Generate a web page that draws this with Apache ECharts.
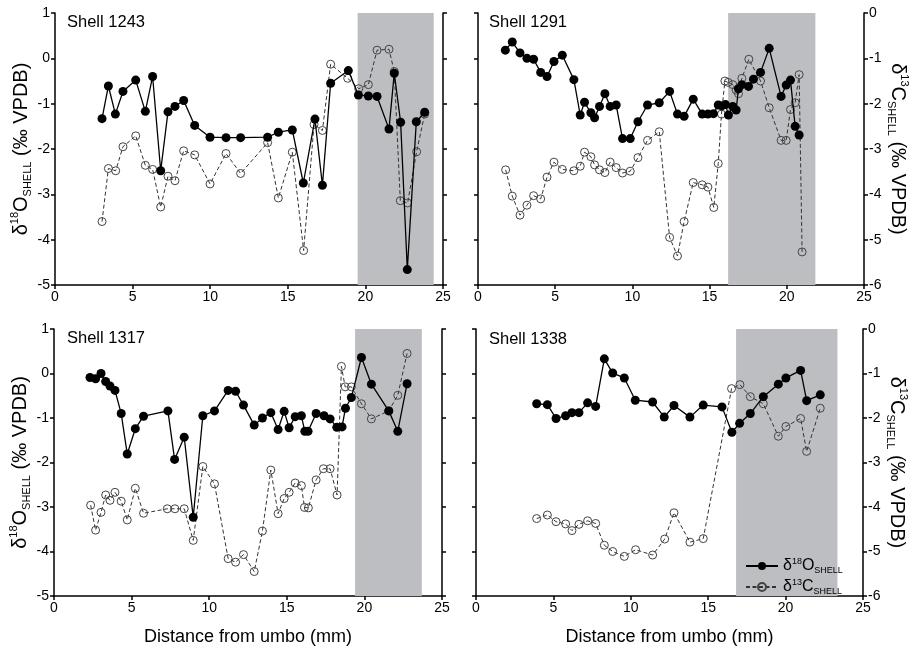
<!DOCTYPE html>
<html>
<head>
<meta charset="utf-8">
<script src="https://cdn.jsdelivr.net/npm/echarts@6/dist/echarts.min.js"></script>
<style>
  html, body { margin: 0; padding: 0; background: #fff; }
  #chart { width: 915px; height: 647px; }
</style>
</head>
<body>
<div id="chart"></div>
<script>
// distance from umbo (mm), value (per mil VPDB)
const shell1243_d18O = [[3.03,-1.33],[3.44,-0.61],[3.89,-1.23],[4.38,-0.73],[5.20,-0.48],[5.82,-1.17],[6.29,-0.40],[6.81,-2.48],[7.28,-1.18],[7.73,-1.06],[8.29,-0.93],[9.00,-1.48],[9.99,-1.74],[11.02,-1.75],[11.96,-1.75],[13.70,-1.74],[14.39,-1.63],[15.29,-1.58],[16.00,-2.75],[16.75,-1.34],[17.23,-2.80],[17.76,-0.55],[18.90,-0.27],[19.55,-0.81],[20.19,-0.83],[20.75,-0.84],[21.52,-1.56],[21.86,-0.33],[22.27,-1.41],[22.70,-4.66],[23.28,-1.40],[23.82,-1.19]];
const shell1243_d13C = [[3.03,-4.60],[3.44,-3.43],[3.91,-3.48],[4.38,-2.95],[5.20,-2.71],[5.82,-3.36],[6.29,-3.45],[6.81,-4.28],[7.28,-3.60],[7.73,-3.70],[8.29,-3.04],[9.00,-3.13],[9.99,-3.77],[11.02,-3.10],[11.96,-3.54],[13.70,-2.86],[14.39,-4.08],[15.29,-3.07],[16.02,-5.24],[16.69,-2.46],[17.23,-2.59],[17.76,-1.13],[18.86,-1.44],[19.57,-1.67],[20.19,-1.58],[20.75,-0.82],[21.52,-0.80],[21.86,-1.29],[22.25,-4.14],[22.72,-4.19],[23.30,-3.06],[23.82,-2.23]];

const shell1291_d18O = [[1.77,0.18],[2.22,0.36],[2.72,0.12],[3.17,0.00],[3.60,-0.02],[4.06,-0.31],[4.47,-0.40],[4.92,-0.07],[5.46,0.07],[6.21,-0.47],[6.62,-1.25],[6.90,-0.97],[7.31,-1.20],[7.55,-1.31],[7.87,-1.06],[8.22,-0.78],[8.56,-1.06],[8.95,-1.03],[9.36,-1.77],[9.86,-1.77],[10.36,-1.40],[10.98,-1.03],[11.74,-0.98],[12.41,-0.73],[12.92,-1.23],[13.35,-1.28],[13.94,-0.90],[14.52,-1.23],[14.89,-1.23],[15.25,-1.22],[15.56,-1.03],[15.79,-1.05],[16.03,-1.02],[16.22,-1.25],[16.50,-1.06],[16.72,-1.14],[16.87,-0.67],[17.09,-0.58],[17.52,-0.62],[17.84,-0.46],[18.30,-0.31],[18.86,0.22],[19.63,-0.84],[19.96,-0.59],[20.24,-0.48],[20.54,-1.50],[20.80,-1.69]];
const shell1291_d13C = [[1.79,-3.46],[2.22,-4.04],[2.72,-4.46],[3.17,-4.24],[3.60,-4.03],[4.06,-4.10],[4.47,-3.62],[4.92,-3.29],[5.46,-3.45],[6.21,-3.48],[6.62,-3.38],[6.90,-3.07],[7.31,-3.17],[7.55,-3.35],[7.87,-3.46],[8.22,-3.52],[8.56,-3.29],[8.95,-3.41],[9.36,-3.53],[9.86,-3.49],[10.36,-3.19],[10.98,-2.81],[11.74,-2.62],[12.41,-4.95],[12.92,-5.36],[13.35,-4.60],[13.94,-3.74],[14.52,-3.79],[14.89,-3.84],[15.27,-4.29],[15.56,-3.32],[15.77,-2.23],[15.99,-1.50],[16.20,-1.53],[16.50,-1.58],[16.72,-1.70],[16.87,-1.78],[17.09,-1.44],[17.54,-1.02],[18.30,-1.50],[18.86,-2.09],[19.63,-2.81],[19.96,-2.81],[20.24,-2.13],[20.54,-1.98],[20.80,-1.36],[20.99,-5.27]];

const shell1317_d18O = [[2.32,-0.09],[2.68,-0.12],[3.03,0.00],[3.33,-0.18],[3.61,-0.28],[3.93,-0.38],[4.33,-0.90],[4.72,-1.81],[5.24,-1.24],[5.77,-0.96],[7.34,-0.84],[7.77,-1.93],[8.39,-1.43],[8.97,-3.23],[9.59,-0.95],[10.34,-0.84],[11.22,-0.38],[11.70,-0.40],[12.21,-0.71],[12.90,-1.16],[13.43,-1.00],[13.97,-0.88],[14.44,-1.26],[14.83,-0.85],[15.15,-1.22],[15.54,-0.97],[15.94,-0.95],[16.16,-1.30],[16.37,-1.30],[16.89,-0.90],[17.40,-0.95],[17.79,-1.02],[18.22,-1.21],[18.56,-1.20],[18.78,-0.78],[19.16,-0.54],[19.81,0.36],[20.45,-0.24],[21.57,-0.84],[22.15,-1.30],[22.75,-0.23]];
const shell1317_d13C = [[2.36,-3.96],[2.68,-4.52],[3.03,-4.12],[3.33,-3.73],[3.61,-3.85],[3.93,-3.67],[4.33,-3.87],[4.72,-4.29],[5.24,-3.58],[5.77,-4.14],[7.30,-4.04],[7.79,-4.04],[8.39,-4.04],[8.97,-4.75],[9.59,-3.09],[10.34,-3.48],[11.22,-5.16],[11.70,-5.24],[12.21,-5.07],[12.90,-5.45],[13.43,-4.54],[13.97,-3.17],[14.44,-4.15],[14.83,-3.81],[15.15,-3.67],[15.54,-3.46],[15.94,-3.52],[16.14,-4.01],[16.39,-4.02],[16.89,-3.39],[17.36,-3.14],[17.79,-3.14],[18.24,-3.73],[18.52,-0.84],[18.76,-1.30],[19.16,-1.30],[19.81,-1.68],[20.45,-2.02],[21.57,-1.84],[22.15,-1.49],[22.75,-0.55]];

const shell1338_d18O = [[3.92,-0.68],[4.61,-0.70],[5.17,-1.01],[5.79,-0.95],[6.20,-0.88],[6.65,-0.88],[7.21,-0.66],[7.73,-0.74],[8.29,0.33],[8.83,0.01],[9.58,-0.10],[10.29,-0.60],[11.41,-0.64],[12.16,-0.98],[12.79,-0.72],[13.82,-0.98],[14.68,-0.71],[15.89,-0.75],[16.53,-1.32],[17.03,-1.12],[17.72,-0.90],[18.56,-0.52],[19.53,-0.24],[20.02,-0.10],[20.97,0.07],[21.36,-0.61],[22.24,-0.48]];
const shell1338_d13C = [[3.92,-4.26],[4.61,-4.18],[5.17,-4.33],[5.79,-4.38],[6.20,-4.53],[6.65,-4.39],[7.21,-4.31],[7.73,-4.37],[8.29,-4.86],[8.83,-5.00],[9.58,-5.11],[10.31,-4.96],[11.41,-5.08],[12.19,-4.72],[12.79,-4.13],[13.82,-4.79],[14.68,-4.71],[16.51,-1.34],[17.05,-1.25],[17.72,-1.52],[18.56,-1.68],[19.53,-2.41],[20.02,-2.19],[20.97,-2.01],[21.36,-2.75],[22.24,-1.78]];

const shellNames = ['Shell 1243', 'Shell 1291', 'Shell 1317', 'Shell 1338'];
const d18OSeries = [shell1243_d18O, shell1291_d18O, shell1317_d18O, shell1338_d18O];
const d13CSeries = [shell1243_d13C, shell1291_d13C, shell1317_d13C, shell1338_d13C];
// shaded band (mm)
const shadeBands = [[19.5, 24.4], [16.2, 21.85], [19.4, 23.7], [16.8, 23.35]];

const FONT = '"Liberation Sans", Arial, Helvetica, sans-serif';
const grids = [
  { left: 55, top: 13, width: 388, height: 272 },
  { left: 478, top: 13, width: 386, height: 272 },
  { left: 54, top: 329, width: 388, height: 272 },
  { left: 476, top: 329, width: 387, height: 272 }
];

const axisLine = { show: true, onZero: false, lineStyle: { color: '#000', width: 1.5 } };
const axisTick = { show: true, length: 4, lineStyle: { color: '#000', width: 1.5 } };
const labelStyle = { color: '#000', fontSize: 14, fontFamily: FONT };

const titleRich = {
  n: { fontSize: 20, fontFamily: FONT, color: '#000', lineHeight: 24 },
  sup: { fontSize: 11, fontFamily: FONT, color: '#000', verticalAlign: 'top', lineHeight: 13 },
  sub: { fontSize: 11, fontFamily: FONT, color: '#000', verticalAlign: 'bottom', lineHeight: 13 }
};

const xAxes = [], yAxes = [], series = [];
grids.forEach((g, i) => {
  const isLeft = i % 2 === 0;
  const isBottom = i >= 2;
  xAxes.push({
    type: 'value', gridIndex: i, min: 0, max: 25, interval: 5,
    axisLine, axisTick, splitLine: { show: false },
    axisLabel: Object.assign({ margin: 5 }, labelStyle),
    name: isBottom ? 'Distance from umbo (mm)' : '',
    nameLocation: 'middle', nameGap: 32,
    nameTextStyle: { fontSize: 18, fontFamily: FONT, color: '#000' }
  });
  yAxes.push({
    type: 'value', gridIndex: i, position: 'left', min: -5, max: 1, interval: 1,
    axisLine, axisTick, splitLine: { show: false },
    axisLabel: Object.assign({ show: isLeft, margin: 5 }, labelStyle),
    name: isLeft ? '{n|δ}{sup|18}{n|O}{sub|SHELL}{n| (‰ VPDB)}' : '',
    nameLocation: 'middle', nameGap: 22, nameRotate: 90,
    nameTextStyle: { rich: titleRich }
  });
  yAxes.push({
    type: 'value', gridIndex: i, position: 'right', min: -6, max: 0, interval: 1,
    axisLine, axisTick, splitLine: { show: false },
    axisLabel: Object.assign({ show: !isLeft, margin: 5 }, labelStyle),
    name: isLeft ? '' : '{n|δ}{sup|13}{n|C}{sub|SHELL}{n| (‰ VPDB)}',
    nameLocation: 'middle', nameGap: 22, nameRotate: -90,
    nameTextStyle: { rich: titleRich }
  });
  // shaded band
  series.push({
    type: 'line', xAxisIndex: i, yAxisIndex: 2 * i, data: [], z: 1, silent: true,
    markArea: {
      silent: true,
      itemStyle: { color: '#bdbec2', opacity: 1 },
      data: [[{ xAxis: shadeBands[i][0] }, { xAxis: shadeBands[i][1] }]]
    }
  });
  series.push({
    name: 'δ13C SHELL', type: 'line', xAxisIndex: i, yAxisIndex: 2 * i + 1,
    data: d13CSeries[i], symbol: 'circle', symbolSize: 8, z: 3,
    lineStyle: { color: '#333', width: 1, type: [4, 2.5] },
    itemStyle: { color: 'rgba(0,0,0,0)', borderColor: '#444', borderWidth: 1 }
  });
  series.push({
    name: 'δ18O SHELL', type: 'line', xAxisIndex: i, yAxisIndex: 2 * i,
    data: d18OSeries[i], symbol: 'circle', symbolSize: 9, z: 4,
    lineStyle: { color: '#000', width: 1.3 },
    itemStyle: { color: '#000' }
  });
});

const shellLabelPos = [[67, 14], [489, 14], [67, 330], [489, 331]];
const graphic = shellNames.map((t, i) => ({
  type: 'text', left: shellLabelPos[i][0], top: shellLabelPos[i][1], z: 10,
  style: { text: t, fontSize: 16.5, fontFamily: FONT, fill: '#000' }
}));

const chart = echarts.init(document.getElementById('chart'), null, { renderer: 'canvas' });
chart.setOption({
  animation: false,
  backgroundColor: '#fff',
  grid: grids,
  xAxis: xAxes,
  yAxis: yAxes,
  series: series,
  graphic: graphic,
  legend: {
    data: ['δ18O SHELL', 'δ13C SHELL'],
    orient: 'vertical', left: 740, top: 552,
    itemWidth: 32, itemHeight: 10, itemGap: 3,
    formatter: name => name === 'δ18O SHELL'
      ? '{n|δ}{sup|18}{n|O}{sub|SHELL}'
      : '{n|δ}{sup|13}{n|C}{sub|SHELL}',
    textStyle: { rich: {
      n: { fontSize: 16, fontFamily: FONT, color: '#000', lineHeight: 18 },
      sup: { fontSize: 9, fontFamily: FONT, color: '#000', verticalAlign: 'top', lineHeight: 10 },
      sub: { fontSize: 9, fontFamily: FONT, color: '#000', verticalAlign: 'bottom', lineHeight: 10 }
    } }
  }
});
</script>
</body>
</html>
